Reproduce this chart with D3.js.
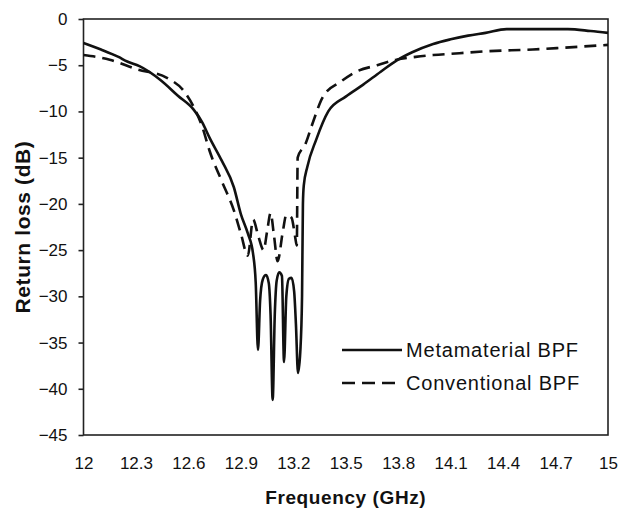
<!DOCTYPE html>
<html>
<head>
<meta charset="utf-8">
<script src="https://cdn.jsdelivr.net/npm/d3@7"></script>
<style>
  body { margin: 0; background: #fff; }
  text { font-family: "Liberation Sans", Arial, sans-serif; fill: #111; }
</style>
</head>
<body>
<div id="chart"></div>
<script>
// Metamaterial BPF (solid)
const freqMeta = [12.0, 12.1, 12.2, 12.25, 12.32, 12.44, 12.54, 12.63, 12.68, 12.72, 12.79, 12.86, 12.9, 12.94, 12.97, 12.985,
  12.998, 13.01, 13.025, 13.044, 13.06, 13.07, 13.082, 13.094, 13.105, 13.12, 13.135, 13.147, 13.16, 13.175, 13.19, 13.205, 13.215, 13.227,
  13.24, 13.25, 13.255, 13.26, 13.28, 13.33, 13.4, 13.5, 13.6, 13.7, 13.79, 13.88, 14.0, 14.1, 14.2, 14.3, 14.42, 14.6, 14.77, 14.9, 15.0];
const lossMeta = [-2.6, -3.3, -4.1, -4.6, -5.1, -6.6, -8.3, -9.8, -11.2, -12.8, -15.3, -18.2, -21.1, -23.2, -25.4, -28.5,
  -35.8, -30.5, -28.2, -27.7, -28.6, -32, -41.2, -32, -28.3, -27.4, -27.8, -37.1, -30, -28.1, -28.0, -29.5, -33, -38.3,
  -36, -30, -20, -18, -16, -13.1, -10.0, -8.4, -7.1, -5.7, -4.5, -3.6, -2.7, -2.2, -1.8, -1.5, -1.1, -1.1, -1.1, -1.3, -1.5];

// Conventional BPF (dashed)
const freqConv = [12.0, 12.15, 12.3, 12.48, 12.57, 12.63, 12.68, 12.72, 12.79, 12.86, 12.9, 12.94,
  12.97, 13.0, 13.03, 13.05, 13.07, 13.09, 13.11, 13.14, 13.16, 13.19, 13.21, 13.22,
  13.225, 13.27, 13.31, 13.37, 13.47, 13.56, 13.68, 13.79, 13.9, 14.0, 14.15, 14.3, 14.57, 14.75, 15.0];
const lossConv = [-3.9, -4.4, -5.4, -6.4, -7.7, -9.5, -11.7, -14.2, -17.5, -20.7, -23.2, -25.6,
  -21.7, -23.5, -25.0, -23, -21.0, -23.5, -26.2, -23, -21.2, -21.5, -23.5, -24.5,
  -15, -13.5, -11.3, -8.4, -6.8, -5.7, -5.0, -4.4, -4.1, -3.9, -3.7, -3.5, -3.3, -3.1, -2.8];

const xTicks = [12, 12.3, 12.6, 12.9, 13.2, 13.5, 13.8, 14.1, 14.4, 14.7, 15];
const yTicks = [0, -5, -10, -15, -20, -25, -30, -35, -40, -45];

const seriesNames = ["Metamaterial BPF", "Conventional BPF"];

const width = 620, height = 514;
const margin = { top: 19, right: 12, bottom: 79, left: 83.5 };

const svg = d3.select("#chart").append("svg")
  .attr("width", width)
  .attr("height", height);

const x = d3.scaleLinear().domain([12, 15]).range([margin.left, width - margin.right]);
const y = d3.scaleLinear().domain([-45, 0]).range([height - margin.bottom, margin.top]);

// frame
svg.append("rect")
  .attr("x", x(12)).attr("y", y(0))
  .attr("width", x(15) - x(12)).attr("height", y(-45) - y(0))
  .attr("fill", "none").attr("stroke", "#222").attr("stroke-width", 1.6);

// y axis ticks + labels
const yAxis = d3.axisLeft(y).tickValues(yTicks).tickSize(5).tickPadding(11).tickFormat(d3.format("d"));
svg.append("g")
  .attr("transform", `translate(${x(12)},0)`)
  .call(yAxis)
  .call(g => g.select(".domain").remove())
  .call(g => g.selectAll("line").attr("stroke", "#222").attr("stroke-width", 1.6))
  .call(g => g.selectAll("text")
    .style("font-size", "17px")
    .style("font-family", "'Liberation Sans', Arial, sans-serif")
    .attr("fill", "#111"));

// x axis labels (no tick marks)
const xAxis = d3.axisBottom(x).tickValues(xTicks).tickSize(0).tickPadding(22).tickFormat(d => d);
svg.append("g")
  .attr("transform", `translate(0,${y(-45)})`)
  .call(xAxis)
  .call(g => g.select(".domain").remove())
  .call(g => g.selectAll("text")
    .style("font-size", "17px")
    .style("font-family", "'Liberation Sans', Arial, sans-serif")
    .attr("fill", "#111"));

// axis titles
svg.append("text")
  .attr("x", (x(12) + x(15)) / 2)
  .attr("y", 504)
  .attr("text-anchor", "middle")
  .style("font-size", "19px")
  .style("font-weight", "bold")
  .style("letter-spacing", "0.6px")
  .text("Frequency (GHz)");

svg.append("text")
  .attr("transform", `translate(30,${(y(0) + y(-45)) / 2}) rotate(-90)`)
  .attr("text-anchor", "middle")
  .style("font-size", "21px")
  .style("font-weight", "bold")
  .style("letter-spacing", "0.6px")
  .text("Return loss (dB)");

// curves
const line = d3.line().x(d => x(d[0])).y(d => y(d[1])).curve(d3.curveMonotoneX);

svg.append("path")
  .datum(d3.zip(freqConv, lossConv))
  .attr("d", line)
  .attr("fill", "none")
  .attr("stroke", "#111")
  .attr("stroke-width", 2.6)
  .attr("stroke-dasharray", "12,7");

svg.append("path")
  .datum(d3.zip(freqMeta, lossMeta))
  .attr("d", line)
  .attr("fill", "none")
  .attr("stroke", "#111")
  .attr("stroke-width", 2.6)
  .attr("stroke-linejoin", "round");

// legend
const legend = svg.append("g");
const legendRows = [
  { name: seriesNames[0], dash: null, ly: 350 },
  { name: seriesNames[1], dash: "13,7", ly: 383 }
];
legendRows.forEach(r => {
  legend.append("line")
    .attr("x1", 342).attr("x2", 402)
    .attr("y1", r.ly).attr("y2", r.ly)
    .attr("stroke", "#111").attr("stroke-width", 2.6)
    .attr("stroke-dasharray", r.dash);
  legend.append("text")
    .attr("x", 406).attr("y", r.ly + 7)
    .style("font-size", "20px")
    .style("letter-spacing", "0.8px")
    .text(r.name);
});
</script>
</body>
</html>
